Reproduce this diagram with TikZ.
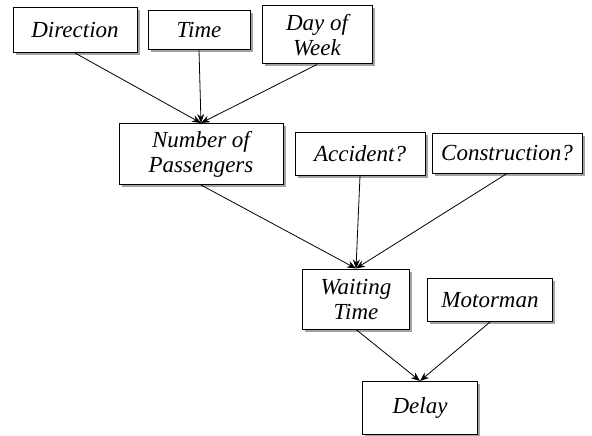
\documentclass[tikz,border=0pt]{standalone}
\usepackage{fontspec}
\setmainfont{Liberation Serif}
\usetikzlibrary{arrows.meta,shadows}
\begin{document}
\begin{tikzpicture}[x=1pt,y=-1pt,
  box/.style={draw=black, line width=1pt, fill=white, inner sep=0pt, align=center,
    font=\fontsize{23}{25}\selectfont\itshape,
    drop shadow={shadow xshift=2.5pt, shadow yshift=-2.5pt, fill=black!45, opacity=0.8}},
  arr/.style={-{Stealth[length=9pt,width=7pt]}, line width=0.8pt}]
\useasboundingbox (0,0) rectangle (592,436);
\node[box, minimum width=124pt, minimum height=45pt] (dir) at (75,30) {Direction};
\node[box, minimum width=102pt, minimum height=39pt] (time) at (199,30) {Time};
\node[box, minimum width=110pt, minimum height=58pt] (dow) at (317,35) {Day of\\Week};
\node[box, minimum width=164pt, minimum height=61pt] (nop) at (201,154) {Number of\\Passengers};
\node[box, minimum width=130pt, minimum height=43pt] (acc) at (360,154) {Accident?};
\node[box, minimum width=150pt, minimum height=40pt] (con) at (507,153) {Construction?};
\node[box, minimum width=107pt, minimum height=60pt] (wait) at (356,299) {Waiting\\Time};
\node[box, minimum width=125pt, minimum height=43pt] (mot) at (490,300) {Motorman};
\node[box, minimum width=115pt, minimum height=53pt] (delay) at (420,408) {Delay};
\draw[arr] (dir.south) -- (nop.north);
\draw[arr] (time.south) -- (nop.north);
\draw[arr] (dow.south) -- (nop.north);
\draw[arr] (nop.south) -- (wait.north);
\draw[arr] (acc.south) -- (wait.north);
\draw[arr] (con.south) -- (wait.north);
\draw[arr] (wait.south) -- (delay.north);
\draw[arr] (mot.south) -- (delay.north);
\end{tikzpicture}
\end{document}
